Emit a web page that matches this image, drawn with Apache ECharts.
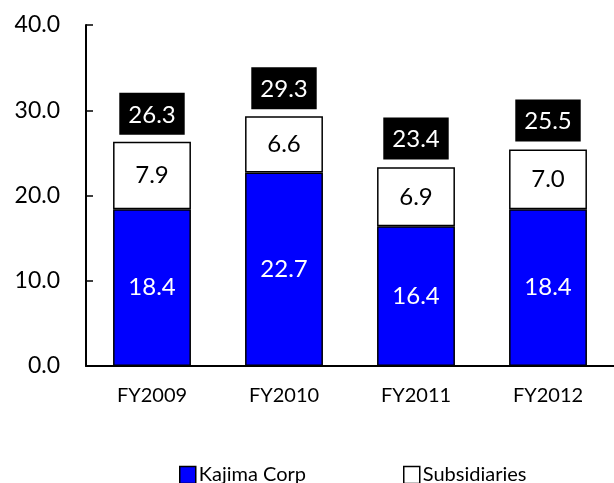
<!DOCTYPE html>
<html>
<head>
<meta charset="utf-8">
<script src="https://cdn.jsdelivr.net/npm/echarts@6/dist/echarts.min.js"></script>
<style>
html,body{margin:0;padding:0;background:#fff;}
#main{width:614px;height:483px;}
</style>
</head>
<body>
<div id="main"></div>
<script>
var years = ['FY2009', 'FY2010', 'FY2011', 'FY2012'];
var kajima = [18.4, 22.7, 16.4, 18.4];
var subs = [7.9, 6.6, 6.9, 7.0];
var totals = [26.3, 29.3, 23.4, 25.5];
var yTicks = [0, 10, 20, 30, 40];

var font = 'Lato, "Open Sans", sans-serif';
var chart = echarts.init(document.getElementById('main'));

var option = {
    backgroundColor: '#fff',
    animation: false,
    textStyle: { fontFamily: font },
    grid: { left: 86, right: -2, top: 25, bottom: 117 },
    legend: [{
        data: ['Kajima Corp'],
        left: 174, top: 460,
        icon: 'rect', itemWidth: 16, itemHeight: 17, itemGap: 4,
        textStyle: { fontSize: 20, color: '#000', fontFamily: font, padding: [0, 0, 0, -2] },
        itemStyle: { borderColor: '#000', borderWidth: 1.5 }
    }, {
        data: ['Subsidiaries'],
        left: 398, top: 460,
        icon: 'rect', itemWidth: 16, itemHeight: 17, itemGap: 4,
        textStyle: { fontSize: 20, color: '#000', fontFamily: font, padding: [0, 0, 0, -2] },
        itemStyle: { borderColor: '#000', borderWidth: 1.5 }
    }],
    xAxis: {
        type: 'category',
        data: years,
        axisLine: { lineStyle: { color: '#000', width: 2 } },
        axisTick: { inside: true, length: 7, lineStyle: { color: '#000', width: 1.5 } },
        axisLabel: { color: '#000', fontSize: 20, margin: 20, fontFamily: font }
    },
    yAxis: {
        type: 'value',
        min: yTicks[0], max: yTicks[yTicks.length - 1], interval: 10,
        splitLine: { show: false },
        axisLine: { show: true, lineStyle: { color: '#000', width: 2 } },
        axisTick: { show: true, inside: true, length: 7, lineStyle: { color: '#000', width: 1.5 } },
        axisLabel: {
            color: '#000', fontSize: 23, margin: 26, fontFamily: font,
            formatter: function (v) { return v.toFixed(1); }
        }
    },
    series: [{
        name: 'Kajima Corp',
        type: 'bar',
        stack: 'total',
        barWidth: '59%',
        data: kajima,
        itemStyle: { color: '#0000ff', borderColor: '#000', borderWidth: 1.5 },
        label: {
            show: true, position: 'inside', color: '#fff', fontSize: 24, fontFamily: font,
            formatter: function (p) { return p.value.toFixed(1); }
        }
    }, {
        name: 'Subsidiaries',
        type: 'bar',
        stack: 'total',
        barWidth: '59%',
        data: subs,
        itemStyle: { color: '#fff', borderColor: '#000', borderWidth: 1.5 },
        label: {
            show: true, position: 'inside', color: '#000', fontSize: 24, fontFamily: font,
            formatter: function (p) { return p.value.toFixed(1); }
        }
    }, {
        name: 'Total',
        type: 'scatter',
        symbolSize: 0,
        data: totals,
        z: 5,
        itemStyle: { opacity: 1 },
        label: {
            show: true, position: 'top', distance: 7,
            color: '#fff', fontSize: 24, fontFamily: font,
            backgroundColor: '#000', padding: [8, 9, 6, 9], lineHeight: 28,
            formatter: function (p) { return p.value.toFixed(1); }
        }
    }]
};

option && chart.setOption(option);
</script>
</body>
</html>
